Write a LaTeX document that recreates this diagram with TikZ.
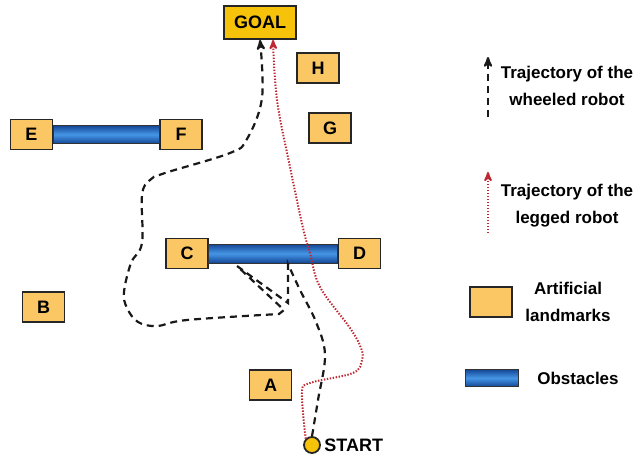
\documentclass[tikz,border=0pt]{standalone}
\usepackage{fontspec}
\setmainfont{Liberation Sans}
\usetikzlibrary{positioning,arrows}

\definecolor{lmfill}{RGB}{250,199,100}
\definecolor{goalfill}{RGB}{247,195,10}
\definecolor{barlight}{RGB}{70,150,230}
\definecolor{bardark}{RGB}{20,70,150}
\definecolor{legred}{RGB}{190,40,50}

\begin{document}
\begin{tikzpicture}[x=1pt, y=-1pt,
    landmark/.style={rectangle, draw=black!85, line width=1.9pt, fill=lmfill,
        minimum width=42pt, minimum height=30pt, inner sep=0pt,
        font=\fontsize{18}{20}\selectfont\bfseries},
    goalbox/.style={landmark, fill=goalfill, minimum width=72pt, minimum height=33pt},
    obstacle/.style={draw=black!80, line width=1pt, top color=bardark,
        bottom color=bardark, middle color=barlight},
    wheeled/.style={draw=black!90, line width=2.2pt, dash pattern=on 7pt off 5pt, ->, >=stealth'},
    legged/.style={draw=legred, line width=2pt, dash pattern=on 1.4pt off 1.6pt, ->, >=stealth'},
    keytext/.style={align=center, font=\fontsize{17}{27}\selectfont\bfseries}
]
\useasboundingbox (0,0) rectangle (636,458);

% landmarks
\node [goalbox] (Goal) at (260,22.5) {GOAL};
\node [landmark] (H) at (318,68) {H};
\node [landmark] (G) at (330,128) {G};
\node [landmark] (E) at (31.5,134.5) {E};
\node [landmark] (F) at (181,134.5) {F};
\node [landmark] (C) at (187,253.5) {C};
\node [landmark] (D) at (359.5,253.5) {D};
\node [landmark] (B) at (43.5,307) {B};
\node [landmark] (A) at (270.5,385) {A};

% obstacles
\path [obstacle] ([yshift=-9pt]E.east) rectangle ([yshift=9pt]F.west);
\path [obstacle] ([yshift=-9.5pt]C.east) rectangle ([yshift=9.5pt]D.west);

% start
\node [circle, draw=black!85, line width=1.8pt, fill=goalfill, minimum size=16pt,
    inner sep=0pt] (Start) at (312,445) {};
\node [right=0pt of Start, font=\fontsize{18}{20}\selectfont\bfseries] (StartText) {START};

% trajectories
\draw [wheeled] plot [smooth, tension=0.6] coordinates {(Start.north) (318,400)
    (325,355) (316,322) (300,290) (288,264)} -- (288,303) -- (237,266) -- (284,310)
    -- plot [smooth, tension=0.6] coordinates {(279,314) (187,320) (157,326)
    (138,322) (127,308) (124,292) (131,263) (142,243) (142,195) (150,180)
    (165,173) (230,153) (247,139) (262,98) (Goal.south)};
\draw [legged] plot [smooth, tension=0.6] coordinates {(Start.north west) (302,393)
    (310,383) (353,373) (362,360) (361,348) (350,328) (320,287) (310,253)
    (303,228) (290,167) (277,100) ([xshift=13pt]Goal.south)};

% legend
\coordinate (WheelBot) at (488,117);
\coordinate (WheelTop) at (488,57);
\draw [wheeled] (WheelBot) -- (WheelTop);
\node [keytext] (WheelText) at (567,86) {Trajectory of the\\wheeled robot};

\coordinate (LegBot) at (488,233);
\coordinate (LegTop) at (488,172);
\draw [legged] (LegBot) -- (LegTop);
\node [keytext] (LegText) at (567,206) {Trajectory of the\\legged robot};

\node [landmark] (LmKey) at (491,302) {};
\node [keytext] (LmText) at (568,302) {Artificial\\landmarks};

\node [obstacle, rectangle, minimum width=53pt, minimum height=17pt] (ObKey) at (491.5,378) {};
\node [keytext] (ObText) at (578,378) {Obstacles};
\end{tikzpicture}
\end{document}
